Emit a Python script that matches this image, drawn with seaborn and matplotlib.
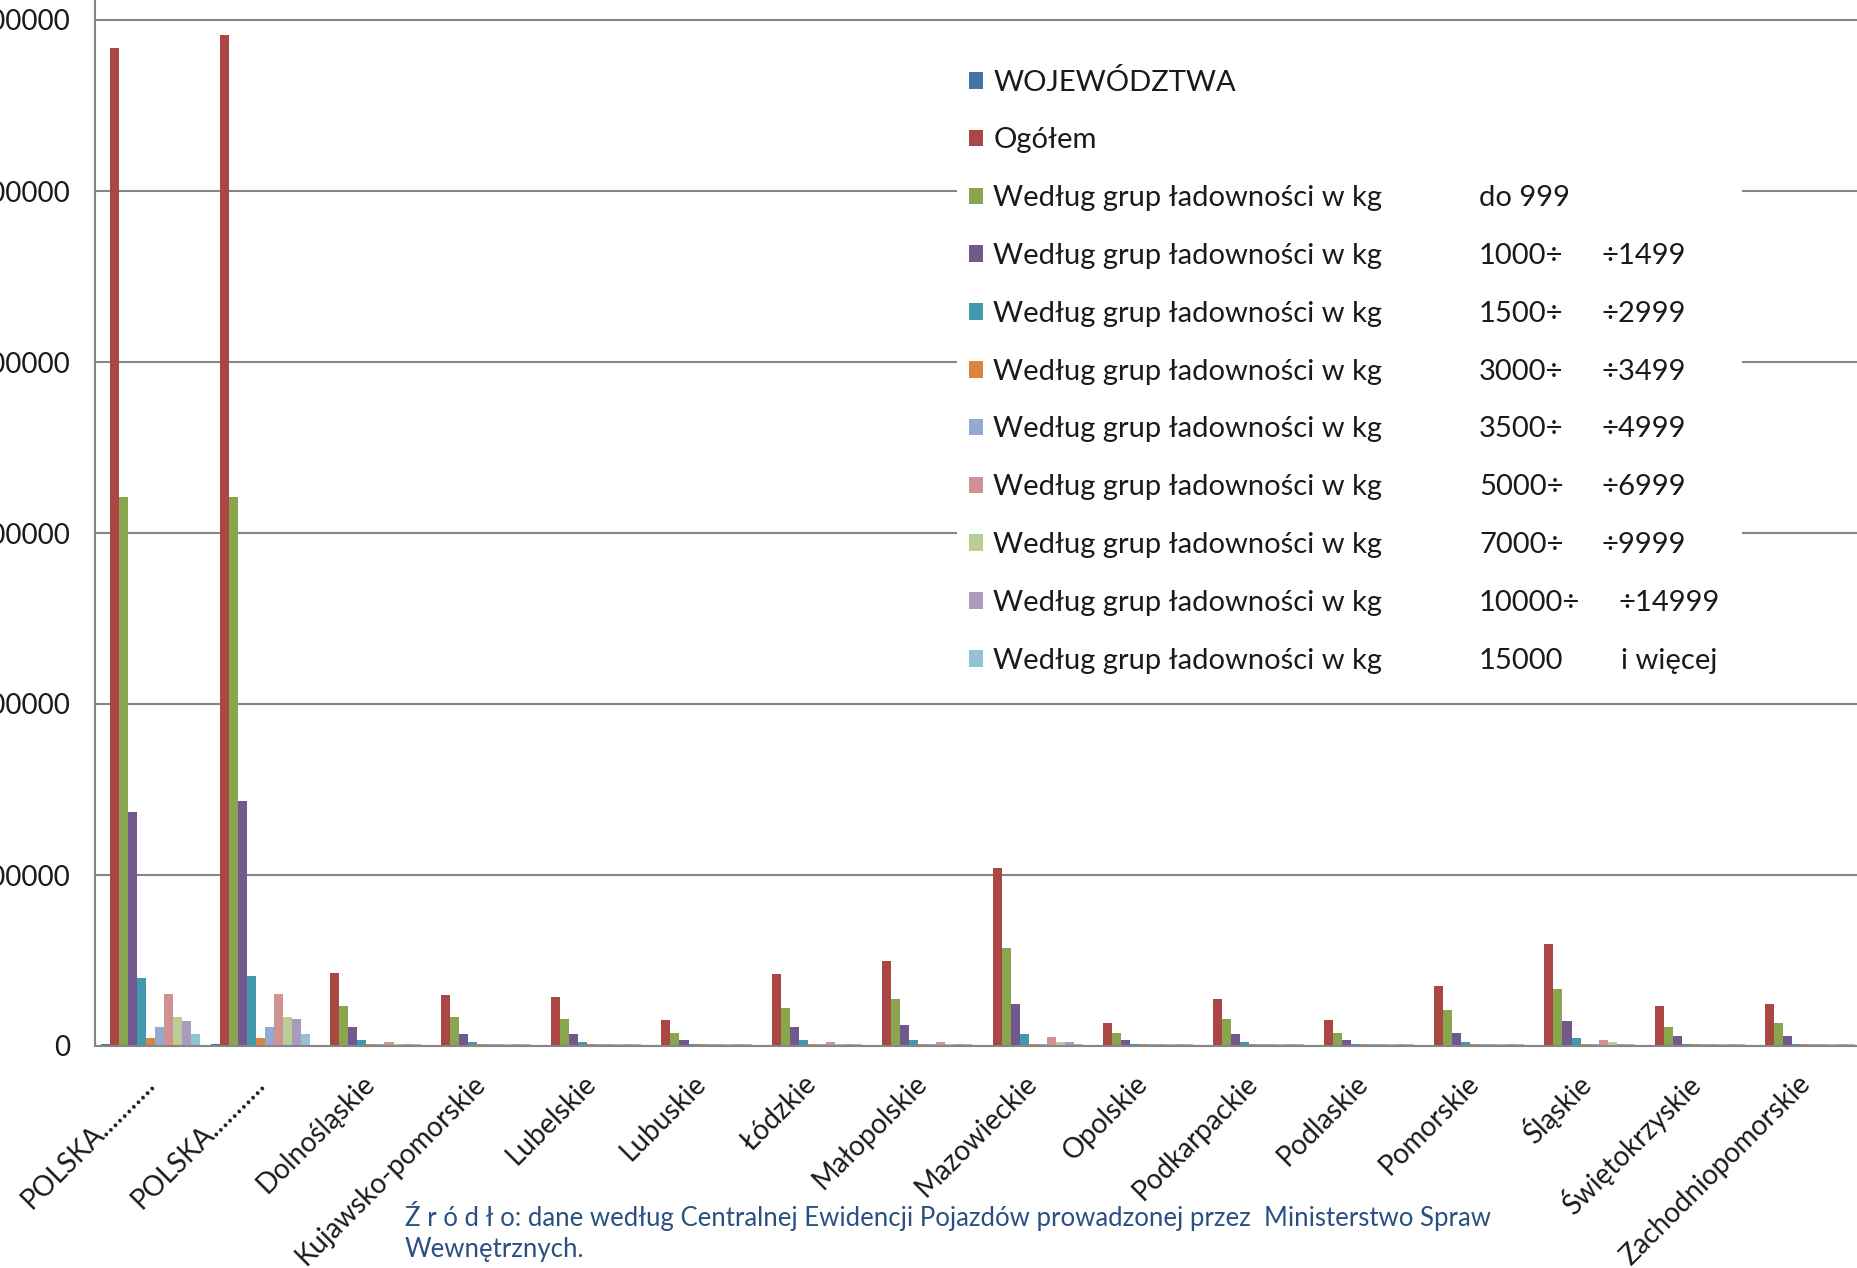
#!/usr/bin/env python3
import matplotlib
matplotlib.use("Agg")
import matplotlib.pyplot as plt
import pandas as pd
import seaborn as sns

sns.set_style("white")
plt.rcParams["font.family"] = ["Lato", "DejaVu Sans"]

# categories (x axis)
regions = [
    "POLSKA...........",
    "POLSKA...........",
    "Dolnośląskie",
    "Kujawsko-pomorskie",
    "Lubelskie",
    "Lubuskie",
    "Łódzkie",
    "Małopolskie",
    "Mazowieckie",
    "Opolskie",
    "Podkarpackie",
    "Podlaskie",
    "Pomorskie",
    "Śląskie",
    "Świętokrzyskie",
    "Zachodniopomorskie",
]

# series names (legend)
series_names = ["WOJEWÓDZTWA", "Ogółem"] + ["Według grup ładowności w kg"] * 9
range_from = ["", "", "do 999", "1000÷", "1500÷", "3000÷", "3500÷", "5000÷", "7000÷", "10000÷", "15000"]
range_to = ["", "", "", "÷1499", "÷2999", "÷3499", "÷4999", "÷6999", "÷9999", "÷14999", "i więcej"]

# values
wojewodztwa = [6800, 6800, 0, 0, 0, 0, 0, 0, 0, 0, 0, 0, 0, 0, 0, 0]
ogolem = [2917000, 2956000, 214500, 149000, 144000, 77000, 209600, 248600,
          519700, 66300, 138500, 77000, 176500, 298400, 116000, 121900]
kg_do_999 = [1605000, 1605000, 116000, 84000, 78000, 39000, 110000, 138500,
             287600, 39000, 78000, 39000, 105300, 165800, 55600, 66300]
kg_1000_1499 = [685600, 717000, 54600, 34000, 34000, 16600, 54600, 60500,
                121900, 16600, 34000, 16600, 39000, 72200, 28300, 28300]
kg_1500_2999 = [199800, 205700, 16600, 10700, 10700, 6800, 16600, 16600,
                34000, 6800, 10700, 6800, 10700, 22400, 6800, 6800]
kg_3000_3499 = [22400, 22400, 5500, 5000, 5000, 4500, 5000, 5500,
                6500, 4500, 5000, 4500, 5000, 6000, 4500, 4500]
kg_3500_4999 = [55600, 55600, 5500, 5000, 5000, 4500, 5500, 5500,
                6500, 4500, 5000, 4500, 5000, 6000, 4500, 4500]
kg_5000_6999 = [151100, 151100, 10700, 6000, 6000, 5000, 10700, 11000,
                27300, 5000, 6000, 5000, 6000, 16600, 5000, 6000]
kg_7000_9999 = [83800, 83800, 6000, 5000, 5000, 4500, 5500, 6000,
                10700, 4500, 5000, 4500, 5000, 10700, 4500, 5000]
kg_10000_14999 = [73100, 78900, 5500, 5000, 5000, 4500, 5500, 5500,
                  10700, 4500, 5000, 4500, 5000, 6000, 4500, 5000]
kg_15000_plus = [34100, 34100, 5500, 5000, 5000, 4500, 5000, 5000,
                 5800, 4500, 5000, 4500, 5000, 5500, 4500, 5000]

colors = ["#4572A7", "#AA4643", "#89A54E", "#71588F", "#4198AF", "#DB843D",
          "#93A9CF", "#D19392", "#B9CD96", "#A99BBD", "#92C3D4"]

footnote_1 = "Ź r ó d ł o: dane według Centralnej Ewidencji Pojazdów prowadzonej przez  Ministerstwo Spraw"
footnote_2 = "Wewnętrznych."

series_values = [wojewodztwa, ogolem, kg_do_999, kg_1000_1499, kg_1500_2999,
                 kg_3000_3499, kg_3500_4999, kg_5000_6999, kg_7000_9999,
                 kg_10000_14999, kg_15000_plus]

x_keys = [f"r{i:02d}" for i in range(len(regions))]
hue_keys = [f"{n} {a} {b}".strip() for n, a, b in zip(series_names, range_from, range_to)]

rows = []
for key, vals in zip(hue_keys, series_values):
    for xk, v in zip(x_keys, vals):
        rows.append({"region": xk, "series": key, "value": v})
df = pd.DataFrame(rows)

W, H = 1858, 1268
fig = plt.figure(figsize=(W / 100, H / 100), dpi=100)
ax = fig.add_axes([95 / W, (H - 1046) / H, 1766 / W, 1197 / H])

sns.barplot(
    data=df, x="region", y="value", hue="series",
    order=x_keys, hue_order=hue_keys, palette=colors,
    width=0.9, gap=0, saturation=1, linewidth=0, errorbar=None, ax=ax,
)

grey = "#868686"
ax.set_xlim(-0.5, len(regions) - 0.5)
ax.set_ylim(0, 3500000)
ax.set_yticks(range(0, 3500001, 500000))
ax.set_yticklabels([str(v) for v in range(0, 3500001, 500000)])
ax.yaxis.grid(True, color=grey, linewidth=1.5)
ax.set_axisbelow(True)
for side in ("top", "right"):
    ax.spines[side].set_visible(False)
for side in ("left", "bottom"):
    ax.spines[side].set_color(grey)
    ax.spines[side].set_linewidth(1.5)
ax.set_xlabel("")
ax.set_ylabel("")

ax.tick_params(axis="y", length=8.6, width=1.2, color=grey, pad=9,
               labelsize=20, labelcolor="#1a1a1a")
ax.set_xticks(range(len(regions)))
ax.set_xticklabels(regions, rotation=45, ha="right", va="center",
                   rotation_mode="anchor", color="#1a1a1a", fontsize=20)
ax.tick_params(axis="x", which="major", length=0, pad=24)
ax.set_xticks([i - 0.5 for i in range(len(regions) + 1)], minor=True)
ax.tick_params(axis="x", which="minor", length=8.6, width=1.2, color=grey)

handles, _ = ax.get_legend_handles_labels()
leg = ax.legend(
    handles, series_names, loc="upper left",
    bbox_to_anchor=(957 / W, 1 - 57 / H, (1742 - 957) / W, 0.0),
    bbox_transform=fig.transFigure, mode="expand",
    frameon=True, facecolor="white", edgecolor="none", framealpha=1,
    fancybox=False, fontsize=21, handlelength=0.5, handleheight=0.5,
    handletextpad=0.35, labelspacing=1.09, borderpad=0.4, borderaxespad=0,
)
for t in leg.get_texts():
    t.set_color("#1a1a1a")

fig.canvas.draw()
inv = fig.transFigure.inverted()
col1_x = 1479 / W
col2_x = [1602 / W] * 9 + [1619 / W, 1621 / W]
for i, t in enumerate(leg.get_texts()):
    bb = t.get_window_extent()
    y0 = inv.transform((0, bb.y0))[1]
    if range_from[i]:
        ax.text(col1_x, y0, range_from[i], transform=fig.transFigure,
                va="bottom", ha="left", fontsize=21, color="#1a1a1a", zorder=10)
    if range_to[i]:
        ax.text(col2_x[i], y0, range_to[i], transform=fig.transFigure,
                va="bottom", ha="left", fontsize=21, color="#1a1a1a", zorder=10)

fig.text(405 / W, 1 - 1216 / H, footnote_1, color="#2A5082", fontsize=18.5, va="center")
fig.text(405 / W, 1 - 1250 / H, footnote_2, color="#2A5082", fontsize=18.5, va="center")

fig.savefig("out.png", dpi=100)
